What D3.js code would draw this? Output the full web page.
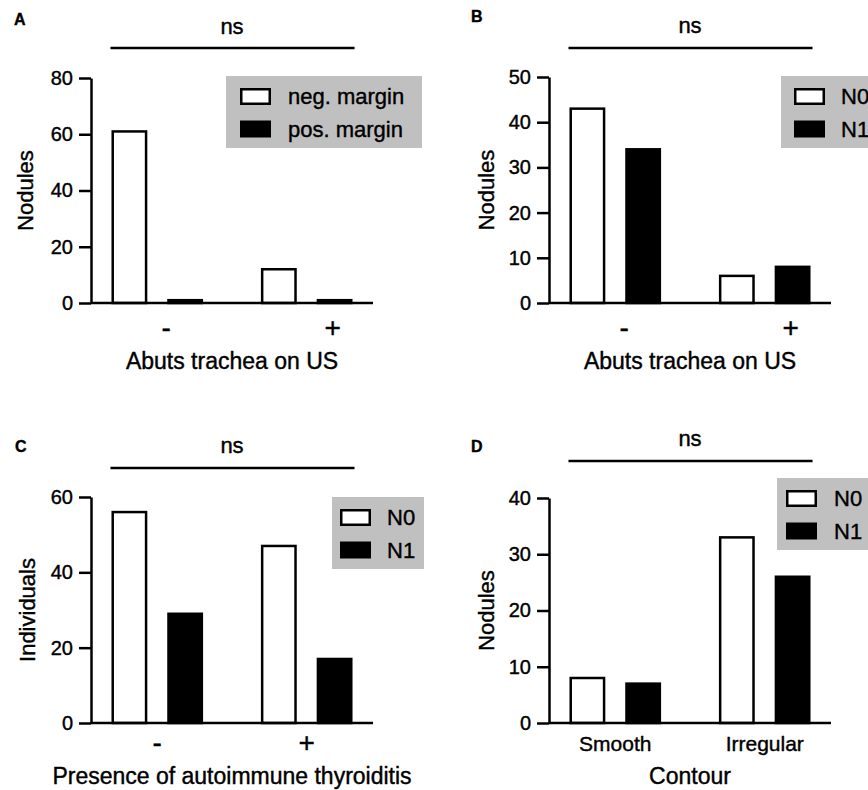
<!DOCTYPE html>
<html>
<head>
<meta charset="utf-8">
<script src="https://cdn.jsdelivr.net/npm/d3@7"></script>
<style>
  body { margin: 0; background: #fff; }
  svg { display: block; font-family: "Liberation Sans", Arial, sans-serif; }
  svg text { stroke: #000; stroke-width: 0.4px; }
</style>
</head>
<body>
<script>
// Categories and series
const groupsSign = ["-", "+"];
const groupsContour = ["Smooth", "Irregular"];
const seriesMargin = ["neg. margin", "pos. margin"];
const seriesN = ["N0", "N1"];

// Values
const negMarginA = [61, 12];
const posMarginA = [1, 1];
const n0B = [43, 6];
const n1B = [34, 8];
const n0C = [56, 47];
const n1C = [29, 17];
const n0D = [8, 33];
const n1D = [7, 26];

// Y tick labels
const ticksA = [0, 20, 40, 60, 80];
const ticksB = [0, 10, 20, 30, 40, 50];
const ticksC = [0, 20, 40, 60];
const ticksD = [0, 10, 20, 30, 40];

const width = 868;
const height = 790;
const plotWidth = 282;
const stroke = 2.5;

// Panel layout
const panels = [
    { letter: "A", letterX: 14, letterY: 25, groups: groupsSign, series: seriesMargin, values: [negMarginA, posMarginA],
      ticks: ticksA, yTitle: "Nodules", xTitle: "Abuts trachea on US",
      left: 91, top: 78, bottom: 303, nsY: 34, lineY: 48, labelDx: [9, 26], labelY: 34, labelSize: 28, titleY: 66, yTitleX: 25,
      legend: { x: 226, y: 76, w: 196, pad: 14, textX: 62 } },
    { letter: "B", letterX: 471, letterY: 22, groups: groupsSign, series: seriesN, values: [n0B, n1B],
      ticks: ticksB, yTitle: "Nodules", xTitle: "Abuts trachea on US",
      left: 549, top: 77, bottom: 303, nsY: 33, lineY: 48, labelDx: [9, 26], labelY: 34, labelSize: 28, titleY: 66, yTitleX: 486,
      legend: { x: 781, y: 76, w: 120, pad: 13, textX: 60 } },
    { letter: "C", letterX: 15, letterY: 452, groups: groupsSign, series: seriesN, values: [n0C, n1C],
      ticks: ticksC, yTitle: "Individuals", xTitle: "Presence of autoimmune thyroiditis",
      left: 91, top: 497, bottom: 723, nsY: 453, lineY: 468, labelDx: [0, 0], labelY: 29, labelSize: 28, titleY: 61, yTitleX: 27,
      legend: { x: 332, y: 497, w: 92, pad: 8, textX: 55 } },
    { letter: "D", letterX: 471, letterY: 452, groups: groupsContour, series: seriesN, values: [n0D, n1D],
      ticks: ticksD, yTitle: "Nodules", xTitle: "Contour",
      left: 549, top: 498, bottom: 723, nsY: 446, lineY: 461, labelDx: [0, 0], labelY: 28, labelSize: 21, titleY: 61, yTitleX: 486,
      legend: { x: 777, y: 478, w: 100, pad: 9, textX: 57 } }
];

const svg = d3.select("body").append("svg")
    .attr("width", width)
    .attr("height", height)
    .attr("viewBox", [0, 0, width, height]);

const fills = ["#fff", "#000"];

panels.forEach(p => {
    const g = svg.append("g");

    // Scales
    const x0 = d3.scaleBand()
        .domain(p.groups)
        .range([p.left, p.left + plotWidth])
        .paddingInner(0.387)
        .paddingOuter(0.137);

    const x1 = d3.scaleBand()
        .domain(p.series)
        .range([0, x0.bandwidth()])
        .paddingInner(0.357);

    const y = d3.scaleLinear()
        .domain([0, d3.max(p.ticks)])
        .range([p.bottom, p.top]);

    // Bars
    const rows = p.groups.map((grp, i) => ({
        group: grp,
        bars: p.series.map((s, j) => ({ key: s, idx: j, value: p.values[j][i] }))
    }));

    g.append("g")
        .selectAll("g")
        .data(rows)
        .join("g")
        .attr("transform", d => `translate(${x0(d.group)},0)`)
        .selectAll("rect")
        .data(d => d.bars)
        .join("rect")
        .attr("x", d => x1(d.key) + stroke / 2)
        .attr("width", x1.bandwidth() - stroke)
        .attr("y", d => y(d.value))
        .attr("height", d => y(0) - y(d.value))
        .attr("fill", d => fills[d.idx])
        .attr("stroke", "#000")
        .attr("stroke-width", stroke);

    // Y axis
    const yAxis = g.append("g")
        .attr("transform", `translate(${p.left},0)`)
        .call(d3.axisLeft(y).tickValues(p.ticks).tickSize(12).tickSizeOuter(0).tickPadding(6));
    yAxis.selectAll("path, line").attr("stroke", "#000").attr("stroke-width", stroke);
    yAxis.selectAll("text").attr("font-size", 20).attr("fill", "#000");
    yAxis.attr("font-family", null);

    // X axis
    const xAxis = g.append("g")
        .attr("transform", `translate(0,${p.bottom})`)
        .call(d3.axisBottom(x0).tickSize(0).tickSizeOuter(0));
    xAxis.select(".domain").attr("stroke", "#000").attr("stroke-width", stroke)
        .attr("d", `M${p.left},0H${p.left + plotWidth}`);
    xAxis.attr("font-family", null);
    xAxis.selectAll("text")
        .attr("font-size", p.labelSize)
        .attr("fill", "#000")
        .attr("y", p.labelY)
        .attr("dy", 0)
        .attr("dx", (d, i) => p.labelDx[i]);

    // Axis titles
    g.append("text")
        .attr("x", p.left + plotWidth / 2)
        .attr("y", p.bottom + p.titleY)
        .attr("text-anchor", "middle")
        .attr("font-size", 23)
        .text(p.xTitle);

    g.append("text")
        .attr("transform", `translate(${p.yTitleX},${(p.top + p.bottom) / 2}) rotate(-90)`)
        .attr("dy", "0.35em")
        .attr("text-anchor", "middle")
        .attr("font-size", 22)
        .text(p.yTitle);

    // Significance bar
    const first = x0(p.groups[0]);
    const last = x0(p.groups[p.groups.length - 1]) + x0.bandwidth();
    g.append("line")
        .attr("x1", first - 1)
        .attr("x2", last + 2)
        .attr("y1", p.lineY)
        .attr("y2", p.lineY)
        .attr("stroke", "#000")
        .attr("stroke-width", stroke);

    g.append("text")
        .attr("x", (first + last) / 2)
        .attr("y", p.nsY)
        .attr("text-anchor", "middle")
        .attr("font-size", 22)
        .text("ns");

    // Panel letter
    g.append("text")
        .attr("x", p.letterX)
        .attr("y", p.letterY)
        .attr("font-size", 16)
        .attr("font-weight", "bold")
        .text(p.letter);

    // Legend
    const lg = g.append("g").attr("transform", `translate(${p.legend.x},${p.legend.y})`);
    lg.append("rect")
        .attr("width", p.legend.w)
        .attr("height", 72)
        .attr("fill", "#c0c0c0");

    const item = lg.selectAll("g")
        .data(p.series)
        .join("g")
        .attr("transform", (d, i) => `translate(0,${12 + i * 32.5})`);

    item.append("rect")
        .attr("x", p.legend.pad + stroke / 2)
        .attr("y", stroke / 2)
        .attr("width", 31 - stroke)
        .attr("height", 17 - stroke)
        .attr("fill", (d, i) => fills[i])
        .attr("stroke", "#000")
        .attr("stroke-width", stroke);

    item.append("text")
        .attr("x", p.legend.textX)
        .attr("y", 8.5)
        .attr("dy", "0.35em")
        .attr("font-size", 22)
        .text(d => d);
});
</script>
</body>
</html>
